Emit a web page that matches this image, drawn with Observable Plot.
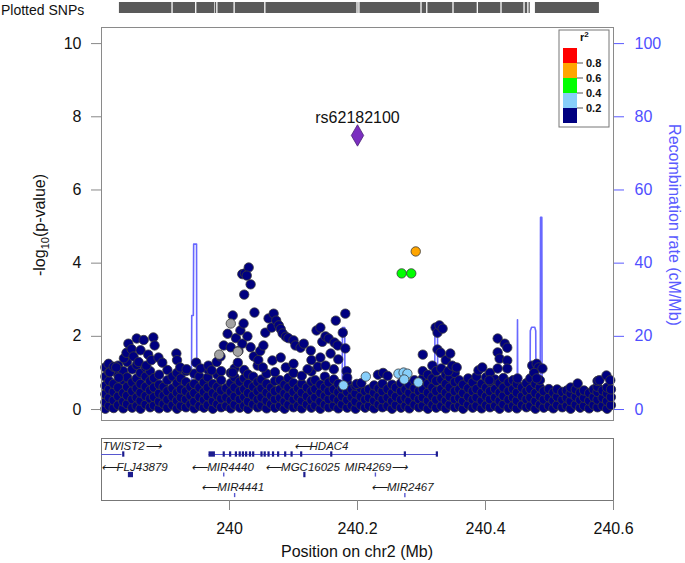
<!DOCTYPE html>
<html><head><meta charset="utf-8">
<script src="https://cdn.jsdelivr.net/npm/d3@7"></script>
<script src="https://cdn.jsdelivr.net/npm/@observablehq/plot@0.6"></script>
<style>
body{margin:0;background:#fff;font-family:"Liberation Sans",Arial,sans-serif;}
#wrap{position:relative;width:685px;height:563px;overflow:hidden;background:#fff;}
#wrap svg{position:absolute;left:0;}
</style></head><body><div id="wrap"></div>
<script>
// ---------- data ----------
const xDomain = [239.8, 240.6];
const xTicks = [240, 240.2, 240.4, 240.6];
const yTicks = [0, 2, 4, 6, 8, 10];
const recombTicks = [0, 20, 40, 60, 80, 100];
const r2Breaks = [0.2, 0.4, 0.6, 0.8];
const r2Colors = ["#000080", "#87CEFA", "#00FF00", "#FFA500", "#FF0000"]; // low -> high
const grayColor = "#a3a3a3";
const leadSnp = {name: "rs62182100", pos: 240.2, logp: 7.49};

// dense band of navy SNPs: [position (Mb), [-log10 p values]]
const navyBand = [
[239.806,[0.02,0.2,0.42,0.65,0.9,1.15]],[239.812,[0.1,0.32,0.55,0.78,1.02]],[239.819,[0.04,0.25,0.48,0.7]],
[239.826,[0.12,0.36,0.6,0.95,1.2]],[239.834,[0.03,0.22,0.45,0.8,1.05]],[239.840,[0.15,0.38,0.62,0.88,1.3]],
[239.848,[0.05,0.28,0.5,0.74,1.1]],[239.855,[0.1,0.33,0.58,0.85,1.22]],[239.861,[0.02,0.24,0.46,0.7,1.0]],
[239.869,[0.14,0.37,0.62,0.9,1.15]],[239.876,[0.06,0.3,0.52,0.78,1.05]],[239.882,[0.11,0.34,0.6,0.86]],
[239.890,[0.03,0.22,0.44,0.68,0.95]],[239.897,[0.15,0.38,0.62]],[239.903,[0.05,0.27,0.5,0.8,1.08]],
[239.911,[0.12,0.35,0.58,0.9]],[239.918,[0.02,0.24,0.46,0.72,1.0]],[239.924,[0.1,0.33,0.55,0.85]],
[239.932,[0.06,0.28,0.5,0.75,1.05]],[239.939,[0.14,0.38,0.62]],[239.945,[0.03,0.22,0.45,0.7,0.98]],
[239.953,[0.1,0.34,0.6,0.9]],[239.960,[0.05,0.26,0.48,0.74]],[239.966,[0.12,0.36,0.6,0.88,1.1]],
[239.974,[0.02,0.23,0.45,0.7]],[239.981,[0.15,0.38,0.62,0.95]],[239.987,[0.06,0.3,0.52,0.8,1.05]],
[239.995,[0.1,0.33,0.58]],[240.002,[0.03,0.25,0.48,0.72,1.0]],[240.008,[0.13,0.36,0.6,0.88,1.12]],
[240.016,[0.05,0.28,0.5,0.76]],[240.023,[0.1,0.34,0.56,0.85,1.08]],[240.029,[0.02,0.22,0.45,0.7,0.96]],
[240.037,[0.14,0.38,0.62,0.9]],[240.044,[0.06,0.27,0.5,0.75,1.2]],[240.050,[0.11,0.33,0.58,0.82]],
[240.058,[0.03,0.24,0.46,0.7,0.98]],[240.065,[0.15,0.38,0.6]],[240.071,[0.05,0.28,0.5,0.78,1.02]],
[240.079,[0.1,0.32,0.55,0.8]],[240.086,[0.02,0.22,0.44,0.68]],[240.092,[0.13,0.36,0.6,0.86]],
[240.100,[0.06,0.27,0.48,0.72,1.0]],[240.107,[0.1,0.34,0.58]],[240.113,[0.03,0.24,0.46,0.7,0.92]],
[240.121,[0.14,0.36,0.6]],[240.128,[0.05,0.26,0.5,0.76,1.04]],[240.134,[0.11,0.33,0.56,0.8]],
[240.142,[0.02,0.22,0.45,0.68]],[240.149,[0.13,0.37,0.6,0.9]],[240.155,[0.06,0.28,0.5,0.74]],
[240.163,[0.1,0.32,0.55,0.82,1.1]],[240.170,[0.03,0.25,0.47,0.7]],[240.176,[0.14,0.36,0.58]],
[240.184,[0.05,0.26,0.48,0.72]],[240.191,[0.11,0.34,0.56]],[240.197,[0.02,0.22,0.44,0.65]],
[240.205,[0.12,0.35,0.58]],[240.212,[0.05,0.27,0.5]],[240.218,[0.1,0.32,0.55]],
[240.226,[0.03,0.24,0.46,0.66]],[240.233,[0.14,0.36,0.58]],[240.239,[0.06,0.28,0.5,0.7]],
[240.247,[0.1,0.33,0.56]],[240.254,[0.02,0.23,0.45,0.68]],[240.260,[0.12,0.35,0.6]],
[240.268,[0.05,0.27,0.5,0.72]],[240.275,[0.1,0.32,0.55]],[240.281,[0.03,0.24,0.46,0.68]],
[240.289,[0.13,0.36,0.58,0.8]],[240.296,[0.06,0.28,0.5,0.75]],[240.302,[0.1,0.33,0.56,0.85,1.05]],
[240.310,[0.02,0.24,0.46,0.7,0.95]],[240.317,[0.13,0.36,0.6,0.85,1.2]],[240.323,[0.05,0.27,0.5,0.78,1.05]],
[240.331,[0.1,0.33,0.56,0.82,1.12]],[240.338,[0.03,0.24,0.46,0.7,0.95]],[240.344,[0.13,0.36,0.6,0.88]],
[240.352,[0.06,0.28,0.5,0.75,1.0]],[240.359,[0.1,0.32,0.55,0.8]],[240.365,[0.02,0.23,0.45,0.68]],
[240.373,[0.13,0.35,0.58,0.85]],[240.380,[0.05,0.27,0.5,0.74]],[240.386,[0.1,0.33,0.56,0.9]],
[240.394,[0.03,0.24,0.46,0.7]],[240.401,[0.12,0.36,0.6,0.88]],[240.407,[0.06,0.28,0.5,0.76,1.0]],
[240.415,[0.1,0.33,0.56,0.82]],[240.422,[0.02,0.24,0.46,0.72]],[240.428,[0.14,0.37,0.6,0.86]],
[240.436,[0.05,0.27,0.5,0.74]],[240.443,[0.1,0.33,0.56,0.8]],[240.449,[0.03,0.24,0.46,0.7]],
[240.457,[0.12,0.36,0.6]],[240.464,[0.06,0.28,0.5,0.72]],[240.470,[0.1,0.33,0.56,0.85]],
[240.478,[0.02,0.23,0.45,0.7]],[240.485,[0.13,0.36,0.6,0.8]],[240.491,[0.05,0.27,0.5]],
[240.499,[0.1,0.33,0.56]],[240.506,[0.03,0.24,0.46]],[240.512,[0.12,0.35,0.55]],
[240.520,[0.06,0.27,0.48]],[240.527,[0.1,0.32,0.52]],[240.533,[0.02,0.23,0.44,0.6]],
[240.541,[0.13,0.35,0.55]],[240.548,[0.05,0.26,0.46]],[240.554,[0.1,0.32,0.52]],
[240.562,[0.03,0.24,0.45]],[240.569,[0.12,0.34,0.55]],[240.575,[0.06,0.27,0.48,0.62]],
[240.583,[0.1,0.32,0.52]],[240.590,[0.02,0.23,0.44,0.6]],[240.596,[0.12,0.34,0.55]]
];
// scattered navy SNPs above the band: [position, -log10 p]
const navyUpper = [
[239.811,1.25],[239.813,1.02],[239.819,1.17],[239.823,1.15],[239.827,0.87],[239.835,1.40],[239.839,1.55],[239.842,1.80],[239.847,1.65],[239.850,1.45],[239.855,1.94],[239.858,1.30],[239.861,1.62],[239.866,1.90],[239.870,1.20],[239.873,1.50],[239.878,1.35],[239.881,1.97],[239.883,1.75],[239.889,1.42],[239.895,1.28],
[239.917,1.53],[239.918,1.35],[239.923,1.15],[239.933,1.10],[239.948,1.28],[239.955,1.12],[239.967,1.20],[239.972,1.07],[239.980,1.30],[239.986,1.45],[239.991,1.75],
[239.997,2.07],[240.002,1.70],[240.005,2.57],[240.005,1.01],[240.010,1.95],[240.013,1.28],[240.014,1.60],[240.017,2.16],[240.020,1.80],[240.022,2.35],[240.023,3.14],[240.020,3.70],[240.024,3.72],[240.030,3.88],[240.027,3.66],[240.033,3.42],[240.028,2.00],[240.033,1.70],[240.039,2.65],[240.038,1.45],[240.045,1.35],[240.048,1.60],[240.052,1.15],[240.053,1.75],[240.056,2.10],
[240.061,2.49],[240.066,2.24],[240.069,2.62],[240.073,2.43],[240.077,2.30],[240.080,2.20],[240.067,1.34],[240.080,1.42],[240.083,2.08],[240.088,1.99],[240.088,1.15],[240.092,1.95],[240.100,1.89],[240.100,1.25],[240.103,1.75],[240.111,1.69],[240.116,1.80],[240.122,1.10],[240.127,1.61],[240.128,1.35],[240.136,2.16],[240.138,1.17],[240.142,2.24],[240.142,1.42],[240.145,1.85],[240.150,2.00],[240.150,1.20],[240.155,1.94],[240.158,1.53],[240.164,1.83],[240.166,2.43],[240.169,1.75],[240.170,1.37],[240.177,2.10],[240.181,2.62],[240.181,1.67],[240.183,1.05],[240.184,0.87],
[240.199,0.70],[240.206,0.72],[240.232,0.95],[240.240,1.00],[240.247,0.92],[240.302,1.50],[240.322,2.24],[240.325,2.10],[240.328,2.30],[240.333,2.21],[240.325,1.64],[240.330,1.55],[240.338,1.35],[240.342,1.05],[240.345,1.53],[240.348,1.20],[240.355,1.15],[240.389,1.07],[240.395,1.15],
[240.419,1.94],[240.430,1.80],[240.434,1.69],[240.419,1.56],[240.422,1.39],[240.434,1.34],[240.419,1.12],[240.434,1.12],[240.406,0.80],[240.450,0.85],[240.473,1.20],[240.480,1.25],[240.483,1.15],[240.489,1.12],[240.476,1.00],[240.480,0.85],[240.544,0.71],[240.575,0.78],[240.578,0.80],[240.589,0.93],[240.595,0.80]
];
const graySnps = [[239.984,1.50],[240.002,2.35],[240.013,1.58]];
const lightBlueSnps = [[240.178,0.66],[240.213,0.90],[240.264,0.98],[240.272,1.01],[240.278,0.98],[240.273,0.82],[240.295,0.74]];
const greenSnps = [[240.269,3.72],[240.284,3.72]];
const orangeSnps = [[240.291,4.32]];

// recombination rate (cM/Mb)
const recomb = [
[239.800,1.2],[239.830,0.8],[239.860,1.5],[239.892,1.0],[239.8925,10.0],[239.896,10.0],[239.8965,1.0],[239.920,0.6],
[239.9405,1.0],[239.941,25.7],[239.9435,25.7],[239.944,45.2],[239.9485,45.2],[239.949,1.5],[239.970,0.8],[240.000,1.2],
[240.0335,1.0],[240.034,8.8],[240.035,8.8],[240.0355,0.8],[240.080,0.5],[240.120,1.0],[240.176,1.0],[240.1765,22.4],
[240.180,22.4],[240.1805,0.8],[240.220,0.6],[240.2435,1.0],[240.244,10.6],[240.245,10.6],[240.2455,0.8],[240.290,0.5],
[240.3205,1.0],[240.321,23.0],[240.325,23.0],[240.3255,1.0],[240.380,0.8],[240.4495,1.0],[240.450,24.5],[240.4505,1.0],
[240.4695,1.0],[240.470,21.5],[240.472,22.5],[240.477,22.5],[240.4785,21.5],[240.479,1.0],[240.4855,1.0],[240.486,52.5],
[240.488,52.5],[240.4885,1.0],[240.530,0.6],[240.600,0.8]
];

// "Plotted SNPs" rug segments [start, end] (Mb)
const rugSegments = [[239.828,239.910],[239.912,239.947],[239.949,239.977],[239.978,239.980],[239.982,240.007],[240.009,240.055],[240.057,240.199],[240.201,240.202],[240.204,240.299],[240.301,240.308],[240.310,240.349],[240.351,240.387],[240.389,240.424],[240.426,240.460],[240.462,240.466],[240.468,240.470],[240.478,240.578]];

// genes
const genes = [
 {name:"TWIST2", start:239.756, end:239.832, strand:"+", row:1, label:239.847},
 {name:"HDAC4", start:239.968, end:240.324, strand:"-", row:1, label:240.143},
 {name:"FLJ43879", start:239.842, end:239.850, strand:"-", row:2, label:239.851},
 {name:"MIR4440", start:239.991, end:239.992, strand:"-", row:2, label:239.989},
 {name:"MGC16025", start:240.116, end:240.118, strand:"-", row:2, label:240.114},
 {name:"MIR4269", start:240.227, end:240.228, strand:"+", row:2, label:240.229},
 {name:"MIR4441", start:240.008, end:240.009, strand:"-", row:3, label:240.005},
 {name:"MIR2467", start:240.274, end:240.275, strand:"-", row:3, label:240.270}
];
const exonBlocks = [[239.968,239.978,1],[239.842,239.850,2]];
const exonTicks = [[239.834,1],[239.991,1],[240.001,1],[240.010,1],[240.016,1],[240.021,1],[240.026,1],[240.032,1],[240.037,1],[240.050,1],[240.055,1],[240.061,1],[240.068,1],[240.076,1],[240.087,1],[240.097,1],[240.112,1],[240.159,1],[240.274,1],[240.324,1],[240.117,2]];
const mirTicks = [[239.991,2],[240.228,2],[240.008,3],[240.274,3]];

// ---------- build ----------
const FONT = "Liberation Sans, Arial, Helvetica, sans-serif";
const wrap = document.getElementById("wrap");
const flatBand = navyBand.flatMap(([p, vs]) => vs.map(v => [p, v]));

// rug
const rug = Plot.plot({
  width: 685, height: 20, marginLeft: 101, marginRight: 72, marginTop: 2, marginBottom: 7,
  x: {domain: xDomain, axis: null}, y: {domain: [0, 1], axis: null},
  style: {background: "transparent", overflow: "visible"},
  marks: [Plot.rect(rugSegments, {x1: d => d[0], x2: d => d[1], y1: 0, y2: 1, fill: "#5a5a5a"})]
});
rug.style.top = "0px";
d3.select(rug).append("text").attr("x", 1).attr("y", 15).attr("text-anchor", "start").attr("font-family", FONT)
  .attr("font-size", 14).attr("fill", "#111").text("Plotted SNPs");
wrap.appendChild(rug);

// main
const dotOpts = (fill) => ({x: d => d[0], y: d => d[1], r: 4.7, fill, stroke: "#3a3a3a", strokeWidth: 0.8});
const main = Plot.plot({
  width: 685, height: 405, marginLeft: 101, marginRight: 72, marginTop: 7, marginBottom: 5,
  x: {domain: xDomain, axis: null},
  y: {domain: [-0.3, 10.44]},
  style: {fontFamily: FONT, fontSize: "16px", background: "transparent", overflow: "visible"},
  marks: [
    Plot.line(recomb, {x: d => d[0], y: d => d[1] / 10, stroke: "#5858ff", strokeWidth: 1.6, strokeOpacity: 0.9}),
    Plot.dot(flatBand, dotOpts(r2Colors[0])),
    Plot.dot(navyUpper, dotOpts(r2Colors[0])),
    Plot.dot(graySnps, dotOpts(grayColor)),
    Plot.dot(lightBlueSnps, dotOpts(r2Colors[1])),
    Plot.dot(greenSnps, dotOpts(r2Colors[2])),
    Plot.dot(orangeSnps, dotOpts(r2Colors[3])),
    Plot.dot([leadSnp], {x: "pos", y: "logp", symbol: "diamond", r: 6.5, fill: "#7b2fc0", stroke: "#4b2375", strokeWidth: 0.8}),
    Plot.text([leadSnp], {x: "pos", y: "logp", text: "name", dy: -18, fontSize: 16, fill: "#111"}),
    Plot.frame({stroke: "#8a8a8a"}),
    Plot.axisY(yTicks, {anchor: "left", tickSize: 10, tickPadding: 10, stroke: "#888", fill: "#111", label: null}),
    Plot.axisY(recombTicks.map(t => t / 10), {anchor: "right", tickSize: 10, tickPadding: 11, color: "#4f4fff", stroke: "#5a5aff", fill: "#4f4fff", tickFormat: d => String(Math.round(d * 10)), label: null})
  ]
});
main.style.top = "20px";
const sm = d3.select(main);
const lt = sm.append("text").attr("transform", "translate(45,205) rotate(-90)").attr("text-anchor", "middle")
  .attr("font-family", FONT).attr("font-size", 16).attr("fill", "#111");
lt.append("tspan").text("-log");
lt.append("tspan").attr("font-size", 11).attr("dy", 4).text("10");
lt.append("tspan").attr("dy", -4).text("(p-value)");
sm.append("text").attr("transform", "translate(669,205) rotate(90)").attr("text-anchor", "middle")
  .attr("font-family", FONT).attr("font-size", 16).attr("fill", "#5a5aff").text("Recombination rate (cM/Mb)");
// legend
const lg = sm.append("g").attr("font-family", FONT).attr("text-anchor", "start");
lg.append("rect").attr("x", 559).attr("y", 10).attr("width", 50).attr("height", 97).attr("fill", "#fff").attr("stroke", "#777");
const lgT = lg.append("text").attr("x", 580).attr("y", 21).attr("font-size", 11).attr("font-weight", "bold").attr("fill", "#111");
lgT.append("tspan").text("r");
lgT.append("tspan").attr("font-size", 8).attr("dy", -4).text("2");
const blockH = 15;
r2Colors.forEach((c, i) => {
  lg.append("rect").attr("x", 563).attr("y", 28 + (r2Colors.length - 1 - i) * blockH).attr("width", 14).attr("height", blockH).attr("fill", c);
});
r2Breaks.forEach((b, i) => {
  const yy = 28 + (r2Colors.length - 1 - i) * blockH;
  lg.append("line").attr("x1", 577).attr("x2", 583).attr("y1", yy).attr("y2", yy).attr("stroke", "#555");
  lg.append("text").attr("x", 586).attr("y", yy).attr("dy", "0.35em").attr("font-size", 11).attr("font-weight", "bold").attr("fill", "#111").text(b.toFixed(1));
});
wrap.appendChild(main);

// genes
const geneColor = "#5757cf";
const exonColor = "#1c1c8e";
const gp = Plot.plot({
  width: 685, height: 133, marginLeft: 101, marginRight: 72, marginTop: 8, marginBottom: 63,
  x: {domain: xDomain},
  y: {domain: [0.22, 3.24], reverse: true, axis: null},
  style: {fontFamily: FONT, fontSize: "16px", background: "transparent", overflow: "visible"},
  marks: [
    Plot.frame({stroke: "#777"}),
    Plot.ruleY(genes.filter(g => g.name === "TWIST2" || g.name === "HDAC4"), {x1: "start", x2: "end", y: "row", stroke: geneColor, strokeWidth: 1.2, clip: true}),
    Plot.rect(exonBlocks, {x1: d => d[0], x2: d => d[1], y1: d => d[2] - 0.13, y2: d => d[2] + 0.13, fill: exonColor}),
    Plot.ruleX(exonTicks, {x: d => d[0], y1: d => d[1] - 0.13, y2: d => d[1] + 0.13, stroke: exonColor, strokeWidth: 2.2}),
    Plot.ruleX(mirTicks, {x: d => d[0], y1: d => d[1] - 0.1, y2: d => d[1] + 0.1, stroke: geneColor, strokeWidth: 1.4}),
    Plot.text(genes, {x: "label", y: "row", dy: -8, text: d => d.strand === "+" ? d.name + "\u27F6" : "\u27F5" + d.name,
      fontSize: 11.5, fontStyle: "italic", fill: "#1a1a1a"}),
    Plot.axisX(xTicks, {anchor: "bottom", tickSize: 10, tickPadding: 12, stroke: "#888", fill: "#111", tickFormat: d => String(d), label: null})
  ]
});
gp.style.top = "430px";
d3.select(gp).append("text").attr("x", 357).attr("y", 127).attr("text-anchor", "middle")
  .attr("font-family", FONT).attr("font-size", 16).attr("fill", "#111").text("Position on chr2 (Mb)");
wrap.appendChild(gp);
</script>
</body></html>
